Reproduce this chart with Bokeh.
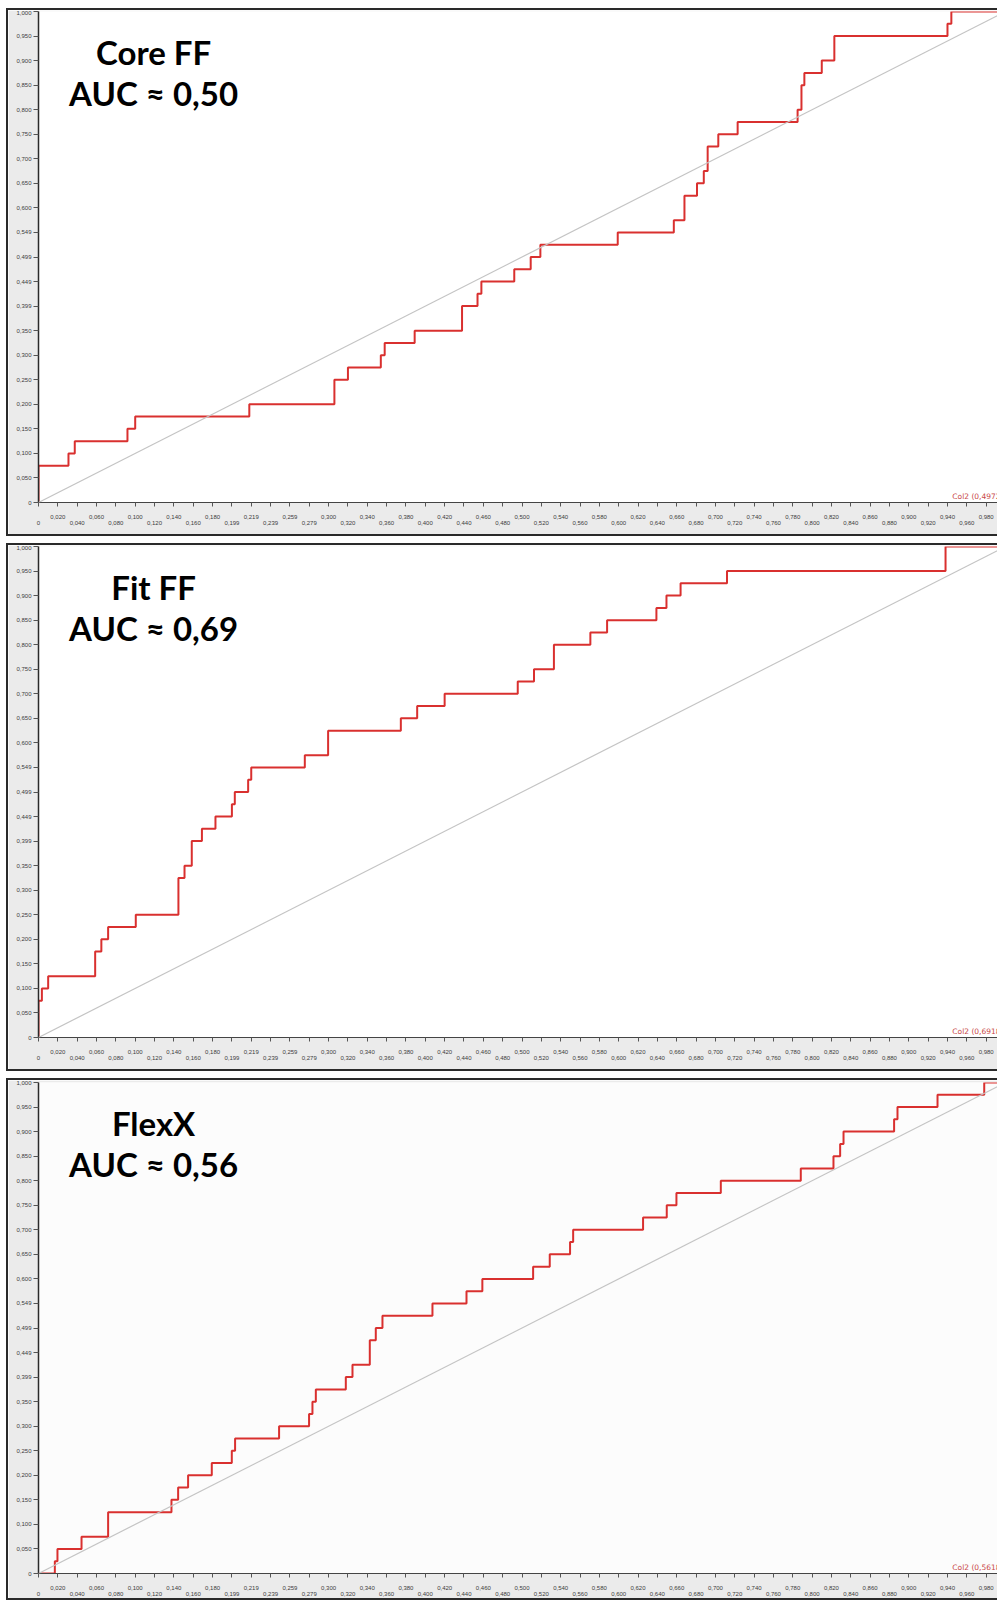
from bokeh.plotting import figure
from bokeh.layouts import column
from bokeh.models import Range1d, FixedTicker, Label, Slope, LinearAxis
from bokeh.embed import file_html
from bokeh.resources import INLINE

# ---------------- data ----------------
panel_titles = ["Core FF", "Fit FF", "FlexX"]
auc_texts = ["AUC ≈ 0,50", "AUC ≈ 0,69", "AUC ≈ 0,56"]
legend_texts = ["Col2 (0,4972)", "Col2 (0,6918)", "Col2 (0,5618)"]

# ROC step curves: at each false-positive rate the true-positive rate rises to the given level
core_fpr = [0.0, 0.031, 0.0375, 0.092, 0.100, 0.218, 0.306, 0.320, 0.354, 0.358, 0.389,
            0.438, 0.454, 0.458, 0.492, 0.509, 0.519, 0.599, 0.657, 0.668, 0.681, 0.688,
            0.692, 0.703, 0.723, 0.785, 0.789, 0.792, 0.810, 0.823, 0.940, 0.944]
core_tpr = [0.075, 0.100, 0.125, 0.150, 0.175, 0.200, 0.250, 0.275, 0.300, 0.325, 0.350,
            0.400, 0.425, 0.450, 0.475, 0.500, 0.525, 0.550, 0.575, 0.625, 0.650, 0.675,
            0.725, 0.750, 0.775, 0.800, 0.850, 0.875, 0.900, 0.950, 0.975, 1.000]

fit_fpr = [0.0, 0.0035, 0.010, 0.0586, 0.065, 0.072, 0.1006, 0.1447, 0.151, 0.1585, 0.169,
           0.183, 0.200, 0.203, 0.2168, 0.220, 0.2754, 0.2995, 0.3747, 0.3916, 0.420,
           0.4956, 0.5124, 0.533, 0.5707, 0.588, 0.639, 0.6494, 0.664, 0.712, 0.938]
fit_tpr = [0.075, 0.100, 0.125, 0.175, 0.200, 0.225, 0.250, 0.325, 0.350, 0.400, 0.425,
           0.450, 0.475, 0.500, 0.525, 0.550, 0.575, 0.625, 0.650, 0.675, 0.700,
           0.725, 0.750, 0.800, 0.825, 0.850, 0.875, 0.900, 0.925, 0.950, 1.000]

flex_fpr = [0.0169, 0.0196, 0.0445, 0.072, 0.1375, 0.1444, 0.1547, 0.1792, 0.1999, 0.2033,
            0.2488, 0.2798, 0.2833, 0.2868, 0.3178, 0.3247, 0.3426, 0.3488, 0.3557, 0.4074,
            0.4426, 0.459, 0.5115, 0.5287, 0.5497, 0.5529, 0.6252, 0.6497, 0.6597, 0.7056,
            0.7883, 0.8221, 0.829, 0.8325, 0.8848, 0.8883, 0.9297, 0.978]
flex_tpr = [0.025, 0.050, 0.075, 0.125, 0.150, 0.175, 0.200, 0.225, 0.250, 0.275,
            0.300, 0.325, 0.350, 0.375, 0.400, 0.425, 0.475, 0.500, 0.525, 0.550,
            0.575, 0.600, 0.625, 0.650, 0.675, 0.700, 0.725, 0.750, 0.775, 0.800,
            0.825, 0.850, 0.875, 0.900, 0.925, 0.950, 0.975, 1.000]

y_tick_values = [0.0, 0.05, 0.10, 0.15, 0.20, 0.25, 0.30, 0.35, 0.40, 0.45, 0.50,
                 0.55, 0.60, 0.65, 0.70, 0.75, 0.80, 0.85, 0.90, 0.95, 1.0]
y_tick_labels = ["0", "0,050", "0,100", "0,150", "0,200", "0,250", "0,300", "0,350",
                 "0,399", "0,449", "0,499", "0,549", "0,600", "0,650", "0,700", "0,750",
                 "0,800", "0,850", "0,900", "0,950", "1,000"]

x_tick_values = [round(0.02 * i, 2) for i in range(51)]
x_tick_labels = ["0", "0,020", "0,040", "0,060", "0,080", "0,100", "0,120", "0,140",
                 "0,160", "0,180", "0,199", "0,219", "0,239", "0,259", "0,279", "0,300",
                 "0,320", "0,340", "0,360", "0,380", "0,400", "0,420", "0,440", "0,460",
                 "0,480", "0,500", "0,520", "0,540", "0,560", "0,580", "0,600", "0,620",
                 "0,640", "0,660", "0,680", "0,700", "0,720", "0,740", "0,760", "0,780",
                 "0,800", "0,820", "0,840", "0,860", "0,880", "0,900", "0,920", "0,940",
                 "0,960", "0,980", "1,000"]

# ---------------- style ----------------
RED = "#d9302f"
PANEL_BG = "#ebebeb"
EDGE = "#2a2a2a"
WIDTH = 991
FRAME_W = 961
FRAME_H = 491
X_END = FRAME_W / 967.0
TICK_FONT = "Liberation Sans"
TICK_COLOR = "#3c3c3c"


def step_path(fpr, tpr):
    xs, ys = [0.0], [0.0]
    prev = 0.0
    for f, t in zip(fpr, tpr):
        xs += [f, f]
        ys += [prev, t]
        prev = t
    xs.append(1.0)
    ys.append(prev)
    return xs, ys


def make_panel(idx, fpr, tpr, height, top, bg):
    bottom = height - top - FRAME_H
    p = figure(width=WIDTH, height=height, output_backend="svg", toolbar_location=None,
               x_range=Range1d(0, X_END), y_range=Range1d(0, 1),
               min_border_left=30, min_border_right=0, min_border_top=top,
               min_border_bottom=bottom)
    p.border_fill_color = PANEL_BG
    p.background_fill_color = bg
    p.outline_line_color = None
    p.xgrid.visible = False
    p.ygrid.visible = False
    p.styles = {"border-left": "2px solid " + EDGE,
                "border-top": "2px solid " + EDGE,
                "border-bottom": "2px solid " + EDGE}

    # y axis
    yax = p.yaxis[0]
    yax.ticker = FixedTicker(ticks=y_tick_values)
    yax.major_label_overrides = {v: s for v, s in zip(y_tick_values, y_tick_labels)}
    yax.major_label_text_font = TICK_FONT
    yax.major_label_text_font_size = "6px"
    yax.major_label_text_color = TICK_COLOR
    yax.major_label_standoff = 2
    yax.major_tick_out = 5
    yax.major_tick_in = 0
    yax.minor_tick_line_color = None
    yax.axis_line_color = EDGE
    yax.axis_line_width = 1.5
    yax.major_tick_line_color = "#555555"

    visible = [(k, v, s) for k, (v, s) in enumerate(zip(x_tick_values, x_tick_labels))
               if v <= X_END]
    odd_over = {v: (s if k % 2 == 1 else "") for k, v, s in visible}
    even_vals = [v for k, v, s in visible if k % 2 == 0]
    even_over = {v: s for k, v, s in visible if k % 2 == 0}

    # upper row of x labels (odd ticks) + all tick marks
    xax = p.xaxis[0]
    xax.ticker = FixedTicker(ticks=[v for k, v, s in visible])
    xax.major_label_overrides = odd_over
    xax.major_label_text_font = TICK_FONT
    xax.major_label_text_font_size = "6px"
    xax.major_label_text_color = TICK_COLOR
    xax.major_label_standoff = 8
    xax.major_tick_out = 4
    xax.major_tick_in = 0
    xax.minor_tick_line_color = None
    xax.axis_line_color = "#444444"
    xax.major_tick_line_color = "#555555"

    # lower row of x labels (even ticks)
    ax2 = LinearAxis(ticker=FixedTicker(ticks=even_vals), major_label_overrides=even_over,
                     axis_line_color=None, major_tick_line_color=None,
                     minor_tick_line_color=None, major_tick_out=0, major_tick_in=0,
                     major_label_standoff=-1, major_label_text_font=TICK_FONT,
                     major_label_text_font_size="6px", major_label_text_color=TICK_COLOR)
    p.add_layout(ax2, "below")

    # chance diagonal
    p.add_layout(Slope(gradient=1, y_intercept=0, line_color="#c4c4c4", line_width=1.2))

    xs, ys = step_path(fpr, tpr)
    p.line(xs, ys, line_color=RED, line_width=2)

    p.add_layout(Label(x=0.119, y=0.9175, text=panel_titles[idx], text_align="center",
                       text_baseline="middle", text_font="Lato", text_font_style="bold",
                       text_font_size="33px", text_color="#000000"))
    p.add_layout(Label(x=0.119, y=0.833, text=auc_texts[idx], text_align="center",
                       text_baseline="middle", text_font="Lato", text_font_style="bold",
                       text_font_size="33px", text_color="#000000"))
    p.add_layout(Label(x=0.945, y=0.004, text=legend_texts[idx], text_align="left",
                       text_baseline="bottom", text_font="DejaVu Sans",
                       text_font_size="7.5px", text_color="#c84848"))
    return p


p1 = make_panel(0, core_fpr, core_tpr, 528, 1, "#ffffff")
p2 = make_panel(1, fit_fpr, fit_tpr, 528, 1, "#ffffff")
p3 = make_panel(2, flex_fpr, flex_tpr, 522, 2, "#fcfcfc")

layout = column(p1, p2, p3, spacing=7, margin=(8, 0, 0, 6))
open("out.html", "w").write(file_html(layout, INLINE))
